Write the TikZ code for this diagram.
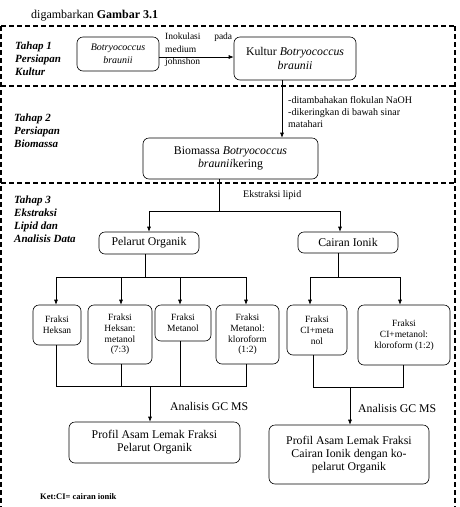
\documentclass[tikz,border=0pt]{standalone}
\usepackage{fontspec}
\setmainfont{Liberation Serif}
\usetikzlibrary{arrows.meta}
\begin{document}
\begin{tikzpicture}[x=1pt,y=-1pt,
  box/.style={draw,rounded corners=6pt,line width=0.6pt,align=center,inner sep=1pt},
  big/.style={font=\fontsize{11.8}{13.2}\selectfont},
  small/.style={font=\fontsize{9.5}{10.8}\selectfont},
  mid/.style={font=\fontsize{10}{12.5}\selectfont},
  arr/.style={-{Latex[length=5pt,width=4pt]},line width=0.6pt},
  ln/.style={line width=0.6pt},
  sep/.style={dash pattern=on 5pt off 3pt,line width=1.2pt},
  stage/.style={anchor=north west,align=left,inner sep=0pt,font=\fontsize{11}{13}\selectfont\bfseries\itshape},
  lbl/.style={inner sep=0pt,align=left}]
\useasboundingbox (0,0) rectangle (460,507);
% heading
\node[anchor=base west,inner sep=0pt,font=\fontsize{12}{14}\selectfont] (head) at (31,18) {digambarkan \textbf{Gambar 3.1}};
% dashed separators
\draw[sep] (1,26) -- (455,26);
\draw[sep] (1,86) -- (455,86);
\draw[sep] (1,183) -- (455,183);
\draw[sep] (1,26) -- (1,507);
\draw[sep] (455,26) -- (455,507);
% stage labels
\node[stage] (t1) at (15,42) {Tahap 1\\Persiapan\\Kultur};
\node[stage] (t2) at (14,114) {Tahap 2\\Persiapan\\Biomassa};
\node[stage] (t3) at (14,196) {Tahap 3\\Ekstraksi\\Lipid dan\\Analisis Data};
% nodes
\node[box,mid,minimum width=82pt,minimum height=34pt] (bb) at (118,54) {\itshape Botryococcus\\\itshape braunii};
\node[box,big,minimum width=122pt,minimum height=43pt] (kul) at (295,58.5) {Kultur \textit{Botryococcus}\\\textit{braunii}};
\node[box,big,minimum width=175pt,minimum height=41pt] (bio) at (230.5,158.5) {Biomassa \textit{Botryococcus}\\\textit{braunii}kering};
\node[box,big,minimum width=100pt,minimum height=22pt] (po) at (149,243) {Pelarut Organik};
\node[box,big,minimum width=100pt,minimum height=21pt] (ci) at (348,242.5) {Cairan Ionik};
\node[box,small,minimum width=48pt,minimum height=40pt] (f1) at (57,325) {Fraksi\\Heksan};
\node[box,small,minimum width=64pt,minimum height=59pt] (f2) at (120,334.5) {Fraksi\\Heksan:\\metanol\\(7:3)};
\node[box,small,minimum width=56pt,minimum height=36pt] (f3) at (183,323) {Fraksi\\Metanol};
\node[box,small,minimum width=63pt,minimum height=59pt] (f4) at (247.5,334.5) {Fraksi\\Metanol:\\kloroform\\(1:2)};
\node[box,small,minimum width=60pt,minimum height=50pt] (f5) at (317,330) {Fraksi\\CI+meta\\nol};
\node[box,small,minimum width=92pt,minimum height=60pt] (f6) at (404,335) {Fraksi\\CI+metanol:\\kloroform (1:2)};
\node[box,big,minimum width=171pt,minimum height=41pt] (p1) at (154.5,442.5) {Profil Asam Lemak Fraksi\\Pelarut Organik};
\node[box,big,minimum width=160pt,minimum height=59pt] (p2) at (349,454.5) {Profil Asam Lemak Fraksi\\Cairan Ionik dengan ko-\\pelarut Organik};
% edge labels
\node[lbl,anchor=north west,text width=67pt,font=\fontsize{9.5}{12.3}\selectfont] (inok) at (165,33) {Inokulasi\hfill pada\\medium\\johnshon};
\node[lbl,anchor=north west,font=\fontsize{10}{12}\selectfont] (flok) at (288,96.5) {-ditambahakan flokulan NaOH\\-dikeringkan di bawah sinar\\matahari};
\node[lbl,mid,anchor=west] (ek) at (243,195) {Ekstraksi lipid};
\node[lbl,big,anchor=west] (gc1) at (170,406) {Analisis GC MS};
\node[lbl,big,anchor=west] (gc2) at (358,408) {Analisis GC MS};
\node[lbl,anchor=west,font=\fontsize{8.5}{10}\selectfont\bfseries] (ket) at (40,497) {Ket:CI= cairan ionik};
% connectors
\draw[arr] ([yshift=-3pt]bb.east) -- ([yshift=-3pt]bb.east -| kul.west);
\draw[arr] ([xshift=-13pt]kul.south) -- ([xshift=-13pt]kul.south |- bio.north);
\coordinate (j1) at (219,211);
\draw[ln] (bio.south -| j1) -- (j1);
\draw[arr] (j1) -| (po.north);
\draw[arr] (j1) -| ([xshift=-8pt]ci.north);
\coordinate (j2) at (145,277);
\draw[ln] (po.south -| j2) -- (j2);
\draw[arr] (j2) -| ([xshift=-1pt]f1.north);
\draw[arr] (j2) -| ([xshift=1pt]f2.north);
\draw[arr] (j2) -| ([xshift=-3pt]f3.north);
\draw[arr] (j2) -| ([xshift=-1.5pt]f4.north);
\coordinate (j3) at (338,277);
\draw[ln] (ci.south -| j3) -- (j3);
\draw[arr] (j3) -| ([xshift=-7pt]f5.north);
\draw[arr] (j3) -| ([xshift=-4pt]f6.north);
\coordinate (j4) at (150,386);
\draw[ln] ([xshift=-1pt]f1.south) |- (j4);
\draw[ln] ([xshift=1pt]f2.south) |- (j4);
\draw[ln] ([xshift=-3pt]f3.south) |- (j4);
\draw[ln] ([xshift=-1.5pt]f4.south) |- (j4);
\draw[arr] (j4) -- (j4 |- p1.north);
\coordinate (j5) at (350,387);
\draw[ln] ([xshift=-4pt]f5.south) |- (j5);
\draw[ln] ([xshift=-1pt]f6.south) |- (j5);
\draw[arr] (j5) -- (j5 |- p2.north);
\end{tikzpicture}
\end{document}
